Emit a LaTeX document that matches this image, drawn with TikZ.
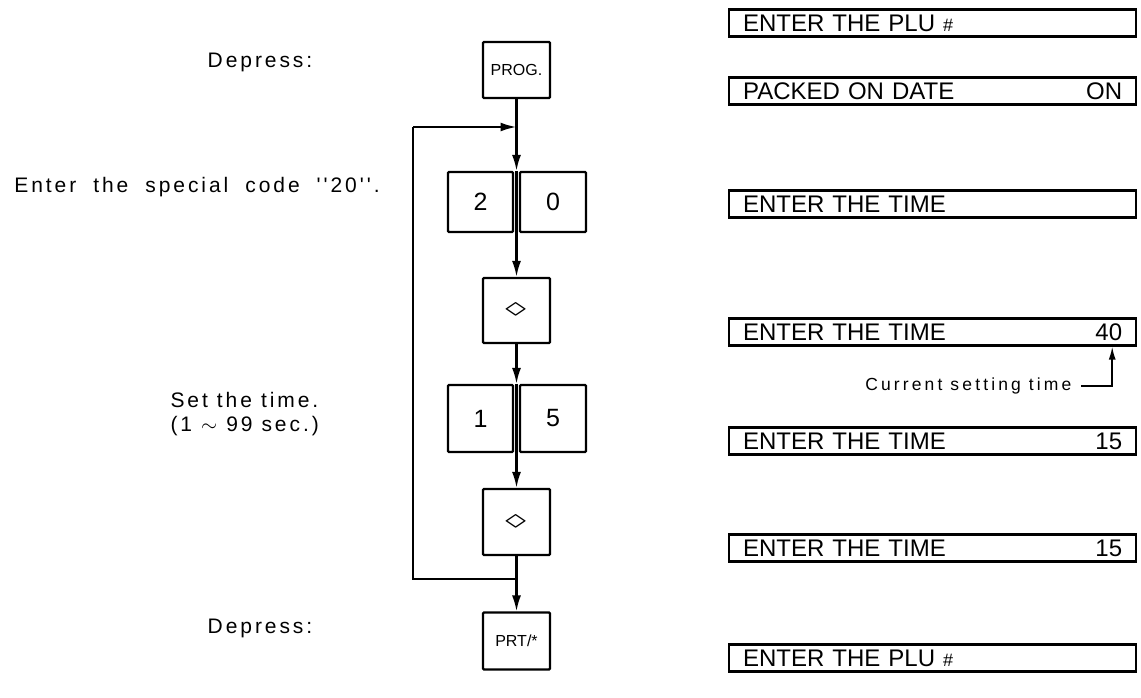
\documentclass[tikz,border=0pt]{standalone}
\usepackage{fontspec}
\setmainfont{Liberation Sans}
\newfontfamily\lblfont[LetterSpace=14]{Liberation Sans}
\newfontfamily\notefont[LetterSpace=18]{Liberation Sans}
\newcommand\dmd{\scalebox{1.7}[1.15]{$\diamond$}}
\newcommand\lblsize{\lblfont\fontsize{21}{26}\selectfont\spaceskip 9pt\relax}
\newcommand\widesize{\lblfont\fontsize{21}{26}\selectfont\spaceskip 17pt\relax}
\newcommand\notesize{\notefont\fontsize{17.5}{20}\selectfont\spaceskip 8pt\relax}
\usetikzlibrary{arrows.meta,calc}

\begin{document}
\begin{tikzpicture}[x=1pt,y=-1pt,
    key/.style={draw, line width=2.2pt, rounded corners=1pt, inner sep=0pt,
        font=\fontsize{25}{27}\selectfont},
    smallkey/.style={key, font=\fontsize{16}{18}\selectfont},
    display/.style={draw, line width=2.2pt, anchor=west, minimum height=27pt,
        text width=379pt, inner xsep=14pt, inner ysep=0pt,
        font=\fontsize{24}{26}\selectfont},
    lbl/.style={font=\lblsize, align=left},
    widelbl/.style={font=\widesize},
    flow/.style={line width=2.2pt, -{Latex[length=16pt,width=9pt]}},
    loopline/.style={line width=2.2pt}]
    \useasboundingbox (0,0) rectangle (1141,698);

    % keys
    \node[smallkey, minimum width=67pt, minimum height=56pt] (prog) at (516.5,70) {PROG.};
    \node[key, minimum width=65pt, minimum height=60pt] (k2) at (480.5,202) {2};
    \node[key, minimum width=66pt, minimum height=60pt] (k0) at (553,202) {0};
    \node[key, minimum width=67pt, minimum height=65pt] (d1) at (516.5,310.5) {\dmd};
    \node[key, minimum width=65pt, minimum height=67pt] (k1) at (480.5,418.5) {1};
    \node[key, minimum width=66pt, minimum height=67pt] (k5) at (553,418.5) {5};
    \node[key, minimum width=67pt, minimum height=66pt] (d2) at (516.5,522) {\dmd};
    \node[smallkey, minimum width=67pt, minimum height=57pt] (prt) at (516.5,641) {PRT/*};

    % steps
    \node[lbl] (t1) at (260,62) {Depress:};
    \node[widelbl] (t2) at (197,187) {Enter the special code ''20''.};
    \node[lbl, anchor=west] (t3) at (167,400) {Set the time.};
    \node[lbl, anchor=west] (t4) at (167,426) {(1 $\sim$ 99 sec.)};
    \node[lbl] (t5) at (260,628) {Depress:};

    % displays
    \node[display] (s1) at (728,23) {ENTER THE PLU {\fontsize{18}{18}\selectfont\#}};
    \node[display] (s2) at (728,91) {PACKED ON DATE\hfill ON};
    \node[display] (s3) at (728,204) {ENTER THE TIME};
    \node[display] (s4) at (728,332) {ENTER THE TIME\hfill 40};
    \node[display] (s5) at (728,441) {ENTER THE TIME\hfill 15};
    \node[display] (s6) at (728,548) {ENTER THE TIME\hfill 15};
    \node[display] (s7) at (728,658) {ENTER THE PLU {\fontsize{18}{18}\selectfont\#}};
    \node[font=\notesize, anchor=east] (cst) at (1075,386) {Current setting time};

    % flow
    \coordinate (jt) at (516.5,127);
    \coordinate (lt) at (413,127);
    \coordinate (lb) at (413,579);
    \coordinate (jb) at (516.5,579);
    \draw[flow] (prog) -- (prog |- k2.north);
    \draw[loopline] (prog |- k2.north) -- (prog |- k2.south);
    \draw[flow] (prog |- k2.south) -- (d1);
    \draw[flow] (d1) -- (d1 |- k1.north);
    \draw[loopline] (d1 |- k1.north) -- (d1 |- k1.south);
    \draw[flow] (d1 |- k1.south) -- (d2);
    \draw[flow] (d2) -- (prt);
    \draw[loopline] (jb) -- (lb) -- (lt);
    \draw[flow] (lt) -- (jt);
    \draw[line width=1.6pt, -{Latex[length=13pt,width=7pt]}] ([xshift=6pt]cst.east) -| ($(s4.south east)+(-25,0)$);
\end{tikzpicture}
\end{document}
